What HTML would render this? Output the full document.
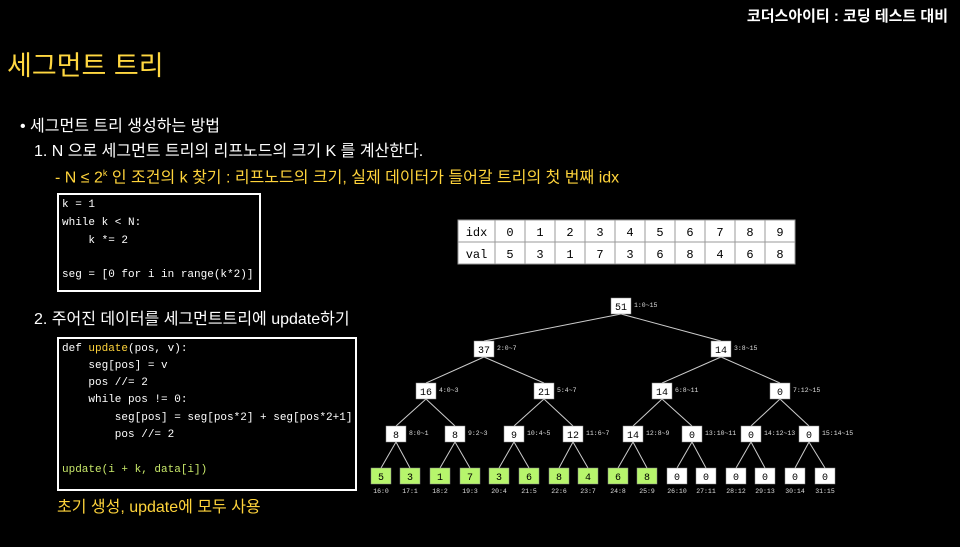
<!DOCTYPE html>
<html><head><meta charset="utf-8"><style>
body{margin:0;background:#000;width:960px;height:547px;overflow:hidden;position:relative;font-family:"Liberation Sans","Noto Sans CJK KR",sans-serif;color:#fff}
.t{position:absolute;white-space:nowrap;line-height:1}
.code{position:absolute;border:2px solid #fff;box-sizing:border-box}
.cl{position:absolute;font-family:"Liberation Mono","DejaVu Sans Mono",monospace;font-size:11px;white-space:pre;color:#fff;line-height:1}
.y{color:#ffd43b}
</style></head><body>
<div class="t" style="right:12px;top:9px;font-size:15px;font-weight:bold">코더스아이티 : 코딩 테스트 대비</div>
<div class="t y" style="left:7px;top:53px;font-size:27px;color:#ffd740">세그먼트 트리</div>
<div class="t" style="left:20px;top:119px;font-size:16px">• 세그먼트 트리 생성하는 방법</div>
<div class="t" style="left:34px;top:144px;font-size:16px">1. N 으로 세그먼트 트리의 리프노드의 크기 K 를 계산한다.</div>
<div class="t y" style="left:55px;top:169px;font-size:16px">- N ≤ 2<sup style="font-size:9px">k</sup> 인 조건의 k 찾기 : 리프노드의 크기, 실제 데이터가 들어갈 트리의 첫 번째 idx</div>
<div class="code" style="left:57px;top:193px;width:204px;height:99px"></div>
<div class="cl" style="left:62px;top:200px">k = 1</div>
<div class="cl" style="left:62px;top:218px">while k &lt; N:</div>
<div class="cl" style="left:62px;top:236px">    k *= 2</div>
<div class="cl" style="left:62px;top:270px">seg = [0 for i in range(k*2)]</div>
<div class="t" style="left:34px;top:312px;font-size:16px">2. 주어진 데이터를 세그먼트트리에 update하기</div>
<div class="code" style="left:57px;top:337px;width:300px;height:154px"></div>
<div class="cl" style="left:62px;top:344px">def <span style="color:#ffd43b">update</span>(pos, v):</div>
<div class="cl" style="left:62px;top:361px">    seg[pos] = v</div>
<div class="cl" style="left:62px;top:378px">    pos //= 2</div>
<div class="cl" style="left:62px;top:395px">    while pos != 0:</div>
<div class="cl" style="left:62px;top:413px">        seg[pos] = seg[pos*2] + seg[pos*2+1]</div>
<div class="cl" style="left:62px;top:430px">        pos //= 2</div>
<div class="cl" style="left:62px;top:465px;color:#c8e86a">update(i + k, data[i])</div>
<div class="t y" style="left:57px;top:500px;font-size:16px">초기 생성, update에 모두 사용</div>
<svg style="position:absolute;left:0;top:0" width="960" height="547" font-family="Liberation Mono, DejaVu Sans Mono, monospace">
<g id="tbl"></g>
<g id="tree"></g>
</svg>
<script>
var s='';
var X=[458,495];for(var i=1;i<=10;i++)X.push(495+i*30);
var idx=['idx',0,1,2,3,4,5,6,7,8,9],val=['val',5,3,1,7,3,6,8,4,6,8];
s+='<rect x="458" y="220" width="337" height="44" fill="#fff" stroke="#999"/>';
for(var i=1;i<X.length-1;i++)s+='<line x1="'+X[i]+'" y1="220" x2="'+X[i]+'" y2="264" stroke="#999"/>';
s+='<line x1="458" y1="242" x2="795" y2="242" stroke="#999"/>';
for(var i=0;i<11;i++){var cx=(X[i]+X[i+1])/2;
s+='<text x="'+cx+'" y="236" font-size="12" text-anchor="middle">'+idx[i]+'</text>';
s+='<text x="'+cx+'" y="258" font-size="12" text-anchor="middle">'+val[i]+'</text>';}
document.getElementById('tbl').innerHTML=s;
var L=[[306,[621]],[349,[484,721]],[391,[426,544,662,780]],[434,[396,455,514,573,633,692,751,809]],
[476,[381,410,440,470,499,529,559,588,618,647,677,706,736,765,795,825]]];
var v=[0,51,37,14,16,21,14,0,8,8,9,12,14,0,0,0,5,3,1,7,3,6,8,4,6,8,0,0,0,0,0,0];
var r=['','0~15','0~7','8~15','0~3','4~7','8~11','12~15','0~1','2~3','4~5','6~7','8~9','10~11','12~13','14~15'];
var t='',n='';var id=1;
for(var l=0;l<5;l++){var ys=L[l][0],xs=L[l][1];
for(var k=0;k<xs.length;k++){var x=xs[k];
if(l<4){var y2=L[l+1][0];t+='<line x1="'+x+'" y1="'+(ys+8)+'" x2="'+L[l+1][1][2*k]+'" y2="'+(y2-8)+'" stroke="#ccc" stroke-width="1"/><line x1="'+x+'" y1="'+(ys+8)+'" x2="'+L[l+1][1][2*k+1]+'" y2="'+(y2-8)+'" stroke="#ccc" stroke-width="1"/>';}
var leaf=l==4,fill=(leaf&&k<10)?'#b7f56c':'#fff';
n+='<rect x="'+(x-10)+'" y="'+(ys-8)+'" width="20" height="16" fill="'+fill+'" stroke="#888" stroke-width="0.5"/>';
n+='<text x="'+x+'" y="'+(ys+4)+'" font-size="10" text-anchor="middle" fill="#000">'+v[id]+'</text>';
if(leaf)n+='<text x="'+x+'" y="'+(ys+17)+'" font-size="6.5" text-anchor="middle" fill="#ddd">'+id+':'+(id-16)+'</text>';
else n+='<text x="'+(x+13)+'" y="'+(ys+1)+'" font-size="6.5" fill="#ddd">'+id+':'+r[id]+'</text>';
id++;}}
document.getElementById('tree').innerHTML=t+n;
</script>
</body></html>
